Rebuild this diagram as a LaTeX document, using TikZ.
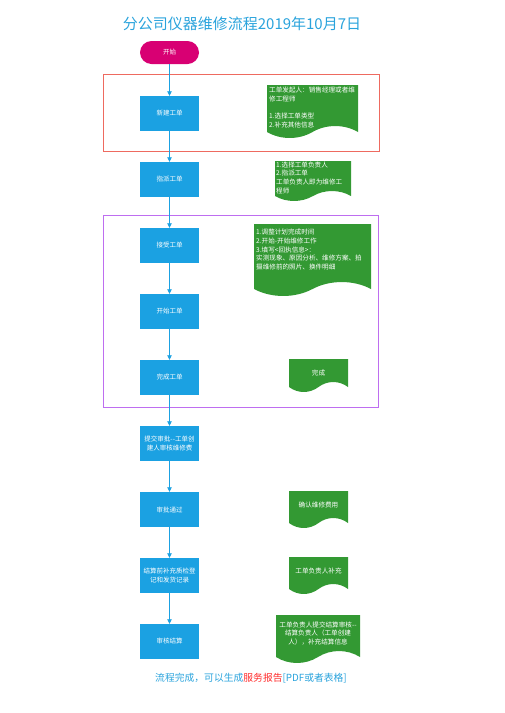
\documentclass[tikz,border=0pt]{standalone}
\usepackage{fontspec}
\setmainfont{Noto Sans CJK SC}
\newfontfamily\cjk{Noto Sans CJK SC}
\usetikzlibrary{arrows.meta}
\definecolor{boxblue}{HTML}{1BA1E2}
\definecolor{titleblue}{HTML}{2AA3DC}
\definecolor{docgreen}{HTML}{339933}
\definecolor{startmag}{HTML}{D80073}
\definecolor{frred}{HTML}{EE6A60}
\definecolor{frpurple}{RGB}{190,110,240}
\definecolor{repred}{HTML}{FF2A2A}
\tikzset{
  proc/.style={rectangle, fill=boxblue, minimum width=59pt, minimum height=35pt,
    text=white, font=\cjk\fontsize{6.5}{8.5}\selectfont, align=center, text width=54pt, inner sep=0pt},
  startnode/.style={rectangle, rounded corners=11.5pt, fill=startmag, minimum width=59pt,
    minimum height=23pt, text=white, font=\cjk\fontsize{6.5}{8.5}\selectfont, inner sep=0pt},
  flow/.style={draw=boxblue, line width=0.8pt, -{Triangle[length=4.5pt,width=4.5pt]}},
  doctext/.style={text=white, font=\cjk\fontsize{6.6}{8.7}\selectfont, inner sep=0pt},
  frame/.style={line width=0.9pt},
}
% name, left x, top y, width, mid-bottom height, amplitude
\newcommand\docwave[6]{%
  \fill[docgreen] (#2,#3) -- (#2+#4,#3) -- (#2+#4,#3+#5)
    .. controls (#2+0.85*#4,#3+#5-1.33*#6) and (#2+0.65*#4,#3+#5-1.33*#6) .. (#2+0.5*#4,#3+#5)
    .. controls (#2+0.35*#4,#3+#5+1.33*#6) and (#2+0.15*#4,#3+#5+1.33*#6) .. (#2,#3+#5) -- cycle;
  \coordinate (#1) at (#2,#3);
}
\begin{document}
\begin{tikzpicture}[x=1pt,y=-1pt]
\useasboundingbox (0,0) rectangle (504,713);
% title
\node[text=titleblue, font=\cjk\fontsize{15}{18}\selectfont] (title) at (242,24) {分公司仪器维修流程2019年10月7日};
% frames
\draw[frame, draw=frred] (103,74) rectangle (379.5,151);
\draw[frame, draw=frpurple] (103,215.5) rectangle (378.5,407);
% main column
\node[startnode] (start) at (169.5,52.5) {开始};
\node[proc] (n1) at (169.5,113.5) {新建工单};
\node[proc] (n2) at (169.5,179.5) {指派工单};
\node[proc] (n3) at (169.5,245.5) {接受工单};
\node[proc] (n4) at (169.5,311.5) {开始工单};
\node[proc] (n5) at (169.5,377.5) {完成工单};
\node[proc] (n6) at (169.5,443.5) {提交审批--工单创\\建人审核维修费};
\node[proc] (n7) at (169.5,509.5) {审批通过};
\node[proc] (n8) at (169.5,575.5) {结算前补充质检登\\记和发货记录};
\node[proc] (n9) at (169.5,641.5) {审核结算};
\draw[flow] (start) -- (n1);
\draw[flow] (n1) -- (n2);
\draw[flow] (n2) -- (n3);
\draw[flow] (n3) -- (n4);
\draw[flow] (n4) -- (n5);
\draw[flow] (n5) -- (n6);
\draw[flow] (n6) -- (n7);
\draw[flow] (n7) -- (n8);
\draw[flow] (n8) -- (n9);
% documents
\docwave{d1}{267}{85}{91}{47}{6}
\node[doctext, anchor=north west, align=left] (t1) at (269,87) {工单发起人：销售经理或者维\\修工程师\\[8.7pt]1.选择工单类型\\2.补充其他信息};
\docwave{d2}{275}{161}{76}{35}{5}
\node[doctext, anchor=north west, align=left] (t2) at (276,161.5) {1.选择工单负责人\\2.指派工单\\工单负责人即为维修工\\程师};
\docwave{d3}{254}{224}{117}{65}{7}
\node[doctext, anchor=north west, align=left] (t3) at (256,229) {1.调整计划完成时间\\2.开始-开始维修工作\\3.填写<回执信息>：\\实测现象、原因分析、维修方案、拍\\摄维修前的照片、换件明细};
\docwave{d4}{289}{359}{59}{28}{5}
\node[doctext] (t4) at (318.5,373) {完成};
\docwave{d5}{289}{491}{59}{32}{5}
\node[doctext] (t5) at (318.5,504.5) {确认维修费用};
\docwave{d6}{289}{557}{59}{32}{5}
\node[doctext] (t6) at (318.5,570.5) {工单负责人补充};
\docwave{d7}{276}{615}{84}{42}{6}
\node[doctext, align=center] (t7) at (318,633.5) {工单负责人提交结算审核--\\结算负责人（工单创建\\人），补充结算信息};
% footer
\node[font=\cjk\fontsize{9.8}{12}\selectfont, text=titleblue] (foot) at (251,678) {流程完成，可以生成\textcolor{repred}{服务报告}[PDF或者表格]};
\end{tikzpicture}
\end{document}
